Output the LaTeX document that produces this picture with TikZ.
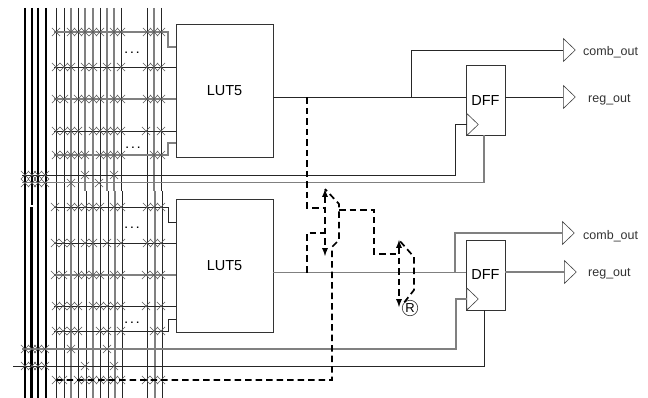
\documentclass[tikz,border=0pt]{standalone}
\usepackage{fontspec}
\setmainfont{Liberation Sans}
\usetikzlibrary{
  shapes.geometric,%
  shapes.misc,%
  positioning,
  arrows
}
\definecolor{wiregray}{gray}{0.5}
\definecolor{fusegray}{gray}{0.35}
\tikzset{>=latex}
\tikzset{wire/.style={line width=0.9pt, black!85}}
\tikzset{graywire/.style={line width=1.1pt, wiregray}}
\tikzset{bus/.style={line width=2.4pt, black}}
\tikzset{fuse/.style={cross out, draw=fusegray, line width=0.7pt, minimum size=7.5pt, inner sep=0pt}}
\tikzset{lutbox/.style={draw=black!80, line width=0.8pt, minimum width=97pt, minimum height=133pt, inner sep=0pt, font=\fontsize{14.5}{15}\selectfont}}
\tikzset{dffbox/.style={draw=black!80, line width=0.8pt, minimum width=39pt, minimum height=70pt, inner sep=0pt, font=\fontsize{14.5}{15}\selectfont}}
\tikzset{buf/.style={isosceles triangle, isosceles triangle apex angle=88, isosceles triangle stretches, draw=black!75, line width=0.6pt, fill=white, minimum width=23pt, minimum height=12pt, inner sep=0pt, anchor=lower side}}
\tikzset{clk/.style={buf, minimum width=22pt, minimum height=11.5pt}}
\tikzset{outlabel/.style={font=\fontsize{12.5}{13}\selectfont, text=black!80, inner sep=0pt, anchor=west}}
\tikzset{route/.style={line width=1.7pt, dash pattern=on 6.5pt off 4pt, black, miter limit=10}}
\tikzset{dots/.style={font=\bfseries\fontsize{10}{10}\selectfont, inner sep=0pt}}
\begin{document}
\begin{tikzpicture}[x=1pt,y=-1pt]
  \useasboundingbox (0,0) rectangle (648,398);

  % routing tracks
  \foreach \x/\s in {56/wire,64/wire,71/graywire,78/wire,85/graywire,93/graywire,100/wire,107/graywire,114/graywire,121/wire,147/wire,154/graywire,161/wire}
    \draw[\s] (\x,8) -- (\x,191);
  \foreach \x/\s in {56/wire,64/wire,71/graywire,78/wire,86/wire,93/graywire,100/wire,108/wire,115/graywire,122/wire,147/wire,155/graywire,162/wire}
    \draw[\s] (\x,191) -- (\x,398);
  \foreach \x in {25,38,46}
    \draw[bus] (\x,8) -- (\x,398);
  \draw[bus] (32,8) -- (32,205);
  \draw[bus] (31.5,207) -- (31.5,398);

  \node[lutbox] (lutA) at (224.5,90.5) {LUT5};
  \node[lutbox] (lutB) at (224.5,265.5) {LUT5};
  \node[dffbox] (dffA) at (485.5,100.5) {DFF};
  \node[dffbox] (dffB) at (485.5,275) {DFF};
  \node[clk] (clkA) at (466.5,124.5) {};
  \node[clk] (clkB) at (466.5,299) {};
  \node[buf] (combA) at (563,50) {};
  \node[buf] (regA) at (563,97) {};
  \node[buf] (combB) at (562,233) {};
  \node[buf] (regB) at (564,272) {};
  \node[outlabel] (combAtext) at (583,52) {comb\_out};
  \node[outlabel] (regAtext) at (588,100) {reg\_out};
  \node[outlabel] (combBtext) at (583,236) {comb\_out};
  \node[outlabel] (regBtext) at (588,274) {reg\_out};
  \node[circle, draw=black!80, line width=0.6pt, minimum size=15.5pt, inner sep=0pt, font=\fontsize{13}{13}\selectfont] (reset) at (410,308) {R};

  \node[dots] (dotsA) at (132,53) {.\hspace{3pt}.\hspace{3pt}.};
  \node[dots] (dotsB) at (133,148) {.\hspace{3pt}.\hspace{3pt}.};
  \node[dots] (dotsC) at (132,228) {.\hspace{3pt}.\hspace{3pt}.};
  \node[dots] (dotsD) at (132,323) {.\hspace{3pt}.\hspace{3pt}.};

  % LUT inputs
  \foreach \y/\s/\n in {67/wire/A,99/graywire/B,131/wire/C,243/wire/D,275/graywire/E,306/wire/F} {
    \coordinate (in\n) at (54,\y);
    \draw[\s] (in\n) -- (in\n -| lutA.west);
  }
  \coordinate (inG) at (54,32);
  \coordinate (inH) at (54,155);
  \coordinate (inI) at (54,207);
  \coordinate (inJ) at (54,331);
  \draw[graywire] (inG) -- (168,32) -- (168,47) -- (176,47);
  \draw[graywire] (inH) -- (168,155) -- (168,143) -- (176,143);
  \draw[wire] (inI) -- (168,207) -- (168,222) -- (176,222);
  \draw[wire] (inJ) -- (168,331) -- (168,319) -- (176,319);

  % control wires
  \coordinate (ctlA) at (22,175);
  \coordinate (ctlB) at (22,182.5);
  \coordinate (ctlC) at (22,349);
  \coordinate (ctlD) at (13,366);
  \draw[wire] (ctlA) -- (455,175) -- (455,124.5) -- (clkA.lower side);
  \draw[graywire] (ctlB) -- (484,182.5) -- (484,135.5);
  \draw[graywire] (ctlC) -- (456,349) -- (456,299) -- (clkB.lower side);
  \draw[wire] (ctlD) -- (484,366) -- (484,310);

  % outputs
  \draw[wire] (lutA.east |- 0,97.5) -- (dffA.west |- 0,97.5);
  \draw[wire] (411,97.5) -- (411,50) -- (combA.lower side);
  \draw[wire] (dffA.east |- regA.lower side) -- (regA.lower side);
  \draw[graywire] (lutB.east |- 0,272.5) -- (dffB.west |- 0,272.5);
  \draw[graywire] (455,272.5) -- (455,233) -- (combB.lower side);
  \draw[graywire] (dffB.east |- regB.lower side) -- (regB.lower side);

  % programmable switches
  \foreach \y/\xs in {
      32/{56,71,78,85,93,100,114,121,147,154,161},
      67/{56,64,71,85,93,107,121,147,154,161},
      99/{56,64,78,85,93,100,114,121,147,154,161},
      131/{56,64,71,78,93,100,107,114,121,146,161},
      155/{56,64,71,78,85,100,107,114,121,154,161},
      175/{25,32,38,45,85,114},
      183/{25,32,38,45,71,99},
      207/{55,71,78,85,93,100,114,121,147,154,161},
      243/{55,63,71,85,93,107,121,147,154,161},
      275/{55,63,78,85,93,100,114,121,146,154,161},
      306/{56,63,71,78,93,100,107,114,121,146,161},
      331/{56,63,71,78,100,107,121,154,161},
      349/{25,32,38,45,71,107},
      366/{25,32,38,45,85,114},
      380/{56,63,78,85,93,100,107,114,121,146,154,161}}
    \foreach \x in \xs
      \node[fuse] (fuse\y-\x) at (\x,\y) {};

  % highlighted path
  \coordinate (muxAtop) at (325,189);
  \coordinate (muxAbot) at (325,256);
  \coordinate (muxAne) at (339,204);
  \coordinate (muxAse) at (339,240);
  \coordinate (muxAout) at (332,247);
  \coordinate (muxBtop) at (399,240);
  \coordinate (muxBbot) at (399,307);
  \coordinate (muxBne) at (414,257);
  \coordinate (muxBse) at (414,290);
  \coordinate (srcA) at (307,97.5);
  \coordinate (srcB) at (307,272.5);
  \coordinate (srcC) at (56,380);
  \draw[route] (srcA) -- (307,208) -- (325,208);
  \draw[route] (srcB) -- (307,233) -- (325,233);
  \draw[route] (srcC) -- (332,380) -- (muxAout) -- (muxAse) -- (muxAne) -- (muxAtop);
  \draw[route,<->] (muxAtop) -- (muxAbot);
  \draw[route] (339,210) -- (374,210) -- (374,254) -- (399,254);
  \draw[route,<->] (muxBtop) -- (muxBbot);
  \draw[route] (reset.north west) -- (muxBse) -- (muxBne) -- (muxBtop);
\end{tikzpicture}
\end{document}
